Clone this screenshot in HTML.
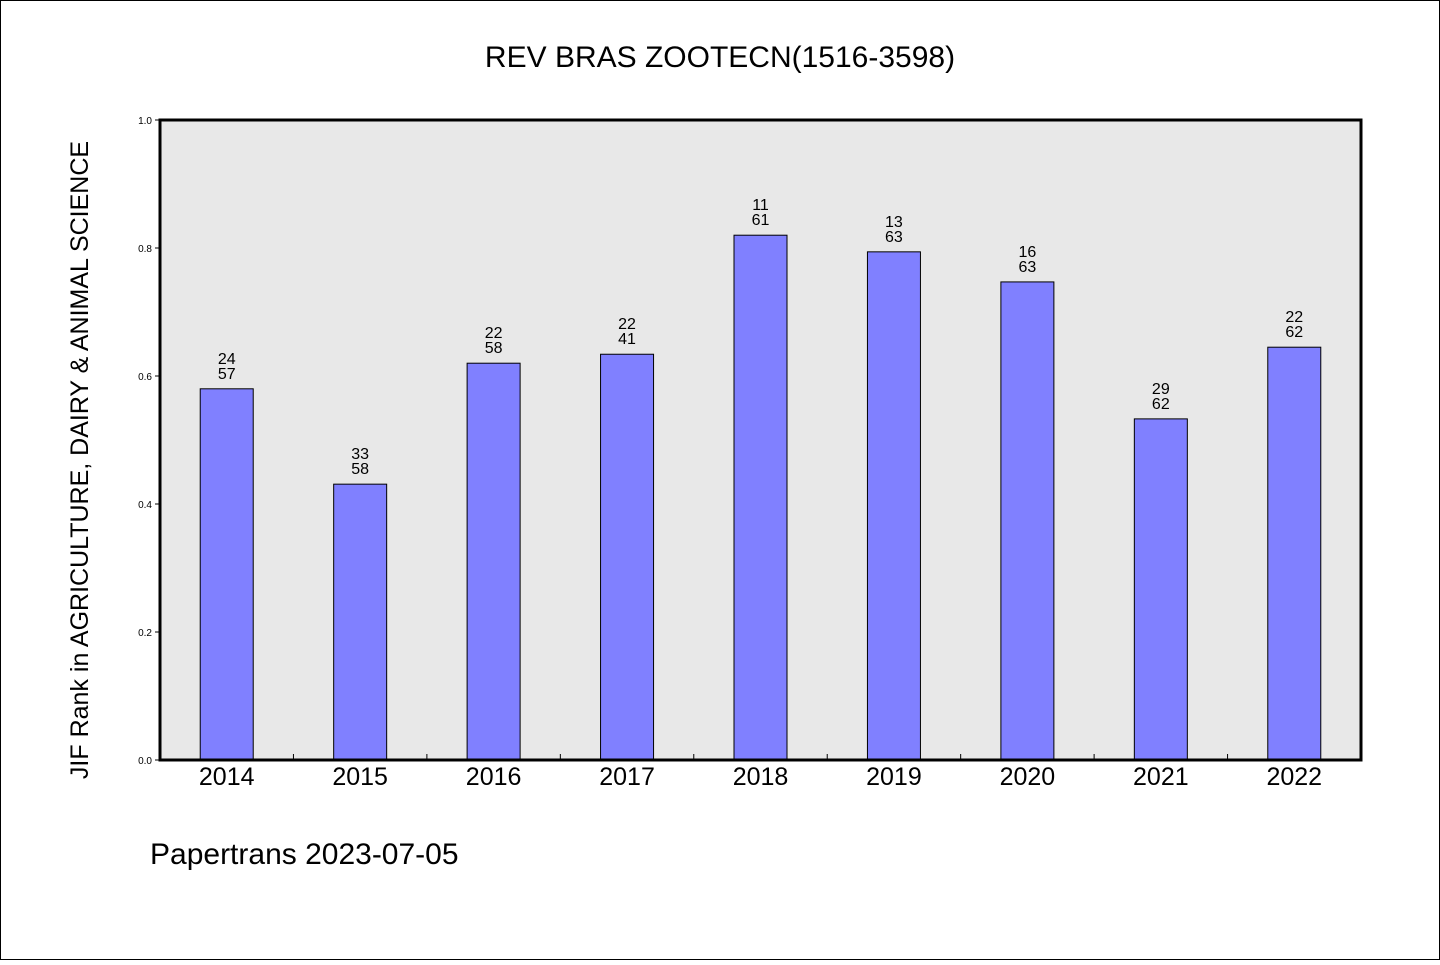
<!DOCTYPE html>
<html><head><meta charset="utf-8"><style>
html,body{margin:0;padding:0;background:#fff}
svg text{font-family:"WenQuanYi Zen Hei","Liberation Sans",sans-serif}
</style></head><body>
<svg width="1440" height="960" viewBox="0 0 1440 960" xmlns="http://www.w3.org/2000/svg">
<rect x="0.5" y="0.5" width="1439" height="959" fill="#fff" stroke="#000"/>
<text x="720" y="67" font-size="30" text-anchor="middle">REV BRAS ZOOTECN(1516-3598)</text>
<rect x="160" y="120" width="1201" height="640" fill="#e8e8e8"/>
<g id="yticks"></g>
<g id="bars"></g>
<rect x="160" y="120" width="1201" height="640" fill="none" stroke="#000" stroke-width="3"/>
<text transform="translate(88,460) rotate(-90)" font-size="25" text-anchor="middle">JIF Rank in AGRICULTURE, DAIRY &amp; ANIMAL SCIENCE</text>
<text x="150" y="864" font-size="30">Papertrans 2023-07-05</text>
</svg>
<script>
const categories=["2014","2015","2016","2017","2018","2019","2020","2021","2022"];
const values=[0.580,0.431,0.620,0.634,0.820,0.794,0.747,0.533,0.645];
const ranks=["24","33","22","22","11","13","16","29","22"];
const totals=["57","58","58","41","61","63","63","62","62"];
const yTicks=[0,0.2,0.4,0.6,0.8,1.0];
const NS="http://www.w3.org/2000/svg";
const x0=160,x1=1361,y0=760,y1=120;
const bw=(x1-x0)/categories.length;
const yS=v=>y0-(v)*(y0-y1);
const xC=i=>x0+bw*(i+0.5);
function mk(t,a,p){const e=document.createElementNS(NS,t);for(const k in a)e.setAttribute(k,a[k]);p.appendChild(e);return e;}
const yt=document.getElementById('yticks');
yTicks.forEach(v=>{
 const l=mk('line',{x1:x0-5,x2:x0,y1:yS(v),y2:yS(v),stroke:'#000'},yt);
 
 
 const t=mk('text',{x:x0-8,y:yS(v)+4,'font-size':10,'text-anchor':'end'},yt);
 t.textContent=v.toFixed(1);
 
 
});
const g=document.getElementById('bars');
categories.forEach((c,i)=>{
 if(i>0){const tk=mk('line',{x1:x0+bw*i,x2:x0+bw*i,y1:y0,y2:y0-6,stroke:'#000'},g);
 
 }
 const w=53,top=yS(values[i]);
 const r=mk('rect',{x:xC(i)-w/2,y:top,width:w,height:y0-top,fill:'#8080ff',stroke:'#000','stroke-width':1},g);
 
 
 const a=mk('text',{x:xC(i),y:top-25,'font-size':16,'text-anchor':'middle'},g);
 a.textContent=ranks[i];
 
 
 const b=mk('text',{x:xC(i),y:top-10,'font-size':16,'text-anchor':'middle'},g);
 b.textContent=totals[i];
 
 
 const xl=mk('text',{x:xC(i),y:785,'font-size':25,'text-anchor':'middle'},g);
 xl.textContent=c;
 
 
});
</script>
</body></html>
